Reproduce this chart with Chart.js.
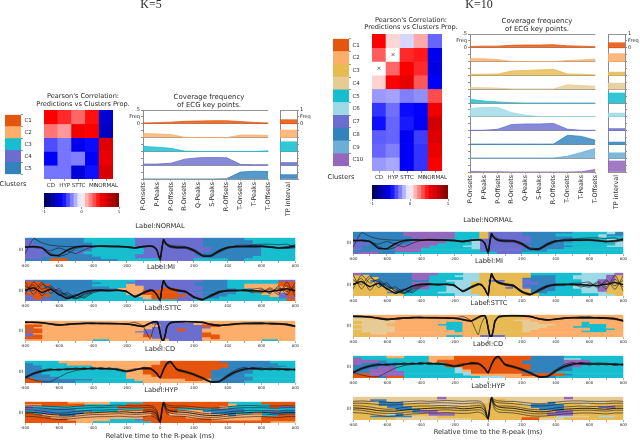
<!DOCTYPE html>
<html>
<head>
<meta charset="utf-8">
<script src="https://cdn.jsdelivr.net/npm/chart.js@4"></script>
<style>
body{margin:0;background:#fff;width:640px;height:441px;overflow:hidden;position:relative;font-family:"DejaVu Sans";color:#2a2a2a;filter:blur(.35px)}
canvas{position:absolute}
.t{position:absolute;transform:translate(-50%,-50%);white-space:nowrap;text-align:center}
</style>
</head>
<body>
<script>
// clusters and key points
const k5Names = ['C1','C2','C3','C4','C5'];
const k10Names = ['C1','C2','C3','C4','C5','C6','C7','C8','C9','C10'];
const k5Colors = ['#e6550d','#fdae6b','#17becf','#6b6ecf','#3182bd'];
const k10Colors = ['#e6550d','#fdae6b','#e7ba52','#e7cb94','#17becf','#9edae5','#6b6ecf','#3182bd','#6baed6','#9467bd'];
const labelsCorr = ['CD','HYP','STTC','MI','NORMAL'];
const keyPoints = ['P-Onsets','P-Peaks','P-Offsets','R-Onsets','Q-Peaks','S-Peaks','R-Offsets','T-Onsets','T-Peaks','T-Offsets'];
const cbLevels = [-.95,-.85,-.75,-.65,-.55,-.45,-.35,-.25,-.15,-.05,.05,.15,.25,.35,.45,.55,.65,.75,.85,.95];

// pearson correlation
const corrK5 = [
 [.52,.42,.30,.47,-.62],
 [.27,.20,.55,.52,-.68],
 [-.35,-.27,-.55,-.48,.62],
 [-.52,-.27,-.25,-.52,.58],
 [-.27,-.27,-.60,-.47,.65]];
const corrK10 = [
 [.50,.08,-.08,.17,-.30],
 [.32,0,.42,.45,-.55],
 [0,.30,.52,.42,-.58],
 [.09,.50,.60,.33,-.52],
 [-.20,-.18,-.25,-.22,.35],
 [-.40,-.28,-.48,-.50,.55],
 [-.47,-.30,-.45,-.53,.68],
 [-.32,-.30,-.53,-.38,.63],
 [-.30,-.25,-.52,-.40,.58],
 [-.20,-.17,-.52,-.40,.52]];
const marksK10 = [['HYP',1],['CD',2]];

// coverage frequency
const covK5 = [
 [.03,.04,.06,.09,.10,.11,.11,.08,.05,.03],
 [.15,.13,.11,.01,0,0,0,.09,.09,.08],
 [.18,.15,.11,.01,0,0,0,0,0,.02],
 [.04,.04,.07,.22,.27,.28,.27,.03,.02,.02],
 [0,0,0,0,0,0,.01,.25,.28,.27]];
const covK10 = [
 [.05,.06,.06,.09,.10,.10,.11,.07,.06,.04],
 [.11,.10,.07,.01,0,0,0,.04,.06,.09],
 [.04,.04,.05,.16,.18,.20,.22,.05,.04,.02],
 [.06,.05,.04,.01,.01,.01,.01,.16,.13,.11],
 [.13,.07,.04,.01,0,0,0,0,0,0],
 [.30,.34,.34,.15,.06,.01,.01,.01,.01,.01],
 [.01,.01,.05,.22,.24,.24,.26,.05,.01,.01],
 [.01,.01,.01,.01,.01,.01,.01,.33,.29,.15],
 [.01,.01,.01,.01,.01,.01,.01,.07,.21,.35],
 [.02,.01,.01,0,0,0,0,0,.01,.09]];
const tpK5 = [.30,.55,.70,.20,.32];
const tpK10 = [.37,.58,.24,.44,.73,.27,.15,.17,.39,.80];

// ecg traces, sampled at ecgT
const ecgT = [-800,-750,-700,-650,-600,-550,-500,-450,-400,-350,-300,-250,-200,-150,-100,-60,-40,-20,-10,0,10,20,30,40,60,100,150,200,250,300,350,400,450,500,550,600,650,700,750,800];
const normalMean = [60,62,56,26,24,46,60,63,62,64,63,62,60,56,62,64,62,48,25,5,55,92,78,70,62,58,58,45,22,22,44,58,62,62,62,63,60,56,58,65];
const normalThin = [
 [30,96,78,68,64,62,62,64,63,66,65,64,62,58,64,66,64,50,28,8,58,90,82,76,68,64,62,50,28,24,40,56,66,68,66,66,62,58,62,70],
 [62,58,54,44,56,44,32,48,60,62,60,60,58,54,60,62,60,46,22,4,50,88,74,66,58,54,54,40,20,26,48,60,60,60,60,60,58,54,54,60],
 [58,60,58,34,20,30,54,62,64,62,62,64,62,58,60,64,60,46,24,6,52,94,80,72,64,60,60,48,24,18,38,54,60,64,70,72,72,70,72,58]];
const miMean = [50,62,40,55,32,12,25,42,50,50,49,50,45,20,38,50,48,30,15,4,60,96,80,68,58,50,44,18,6,25,42,48,49,50,48,46,45,50,58,48];
const miThin = [
 [92,30,78,60,48,22,10,34,50,52,50,48,44,24,42,52,46,32,12,8,54,90,84,72,60,54,46,22,8,20,38,50,52,48,44,38,56,30,90,20],
 [30,90,55,72,40,30,12,20,44,50,52,50,46,18,36,46,50,26,18,2,64,92,76,64,56,48,42,14,4,30,46,50,46,54,56,60,34,70,28,88],
 [70,48,88,36,58,18,30,14,38,48,48,52,42,22,40,54,44,34,14,6,58,98,78,70,62,52,48,20,10,22,40,46,50,46,52,42,62,40,72,36],
 [44,76,24,64,26,40,16,28,46,54,46,50,48,18,34,48,52,28,16,3,62,94,82,66,54,46,40,16,6,28,44,52,48,52,38,54,40,62,44,68]];
const sttcMean = [93,92,90,84,79,82,85,87,87,86,86,85,84,78,72,88,94,96,80,40,5,2,30,70,90,95,96,95,92,82,77,80,84,86,87,87,86,85,82,72];
const sttcThin = [
 [94,94,90,86,82,80,84,88,88,88,84,86,84,92,72,10,60,90,78,44,8,4,34,72,88,92,94,92,90,84,78,78,82,88,90,88,84,82,78,70],
 [90,92,92,82,76,84,87,85,85,88,88,84,86,76,70,84,92,94,82,38,6,3,28,66,92,96,98,96,94,80,74,82,86,84,84,84,88,87,84,74],
 [92,90,88,84,78,80,83,86,89,84,85,87,82,80,74,90,96,97,76,36,4,1,32,74,88,94,95,94,90,80,76,80,86,88,86,90,84,83,80,76]];
const cdMean = [24,42,53,60,60,62,63,64,65,65,63,60,53,60,66,64,56,42,30,24,42,62,78,90,98,60,50,38,22,5,6,32,52,63,65,62,62,62,60,60];
const cdThin = [
 [24,14,6,6,25,45,55,62,66,64,66,62,50,58,70,66,60,44,32,26,44,60,74,86,92,62,52,40,26,8,4,26,46,60,70,66,68,66,64,62],
 [28,46,58,64,56,66,60,68,60,70,60,64,56,64,60,62,52,40,28,20,38,58,74,88,96,56,46,34,18,3,10,38,60,70,60,68,58,66,56,64],
 [22,38,50,56,64,58,68,60,70,60,68,56,50,56,70,68,58,46,34,28,40,56,70,82,90,64,54,42,24,6,8,30,50,58,68,58,66,58,66,56]];
const hypMean = [52,50,46,40,38,38,42,46,48,50,52,52,52,48,50,54,52,40,20,4,60,98,80,66,56,52,50,44,38,35,36,42,46,48,50,50,48,46,50,50];
const hypThin = [
 [72,72,70,66,64,64,68,70,72,72,74,74,72,70,72,74,70,52,26,6,66,98,84,78,74,72,70,66,62,60,62,66,70,72,72,72,70,70,72,72],
 [32,30,26,20,16,18,22,26,28,30,30,32,30,28,30,34,30,20,10,2,44,92,62,44,34,32,30,24,18,16,18,22,26,28,30,30,28,26,30,30],
 [62,60,56,50,46,48,54,58,60,60,62,62,60,58,60,62,60,46,22,4,54,96,76,62,60,60,58,52,46,44,46,52,56,58,60,58,58,56,60,60],
 [44,42,36,30,28,28,32,36,40,40,42,44,42,40,42,44,42,30,14,3,52,94,70,54,46,42,40,34,28,26,28,32,36,40,42,42,40,38,42,42],
 [80,82,80,78,76,74,78,80,82,80,82,84,82,80,82,82,78,60,30,8,70,100,90,86,82,80,80,76,72,70,72,76,80,82,82,80,80,80,82,80]];

// cluster of each 50 ms bin, one string per row, top row first
const k5Normal = [
 '5555 5553 3333 3444 4444 4555 5533 3333','4555 5553 3333 3444 4444 4555 5553 3333',
 '4555 5555 3333 3444 4444 4555 5553 3333','4455 5555 3333 3444 4444 4555 5555 3333',
 '4455 5554 3333 3344 4444 4455 5555 3335','4445 5555 3333 3344 4444 4455 5555 3333',
 '4455 5543 3333 3344 4444 4555 5555 3333','4445 5555 3333 3444 4444 5555 5555 3333',
 '4455 5555 5333 3444 4444 4555 5553 3333','5551 1555 5553 3333 4444 3333 5533 3333'];
const k5Mi = [
 '4555 5555 3333 3444 4444 4555 3333 3344','1155 5555 5333 4444 4444 5555 3333 3311',
 '1115 5555 3333 2444 4444 5555 3322 2211','1155 5555 5533 2244 4444 4555 3322 2221',
 '1114 5555 5552 2244 1144 4555 5332 2211','4115 5555 5533 2211 1144 5555 5332 2221',
 '1155 5555 3333 2211 1144 4555 5333 2241','4115 5553 3333 3221 1114 4555 3333 3241',
 '4155 5533 3333 3321 1144 4553 3333 3344','4445 5333 3333 3333 3344 3333 3333 3331'];
const k5Sttc = [
 '2222 2222 2222 2224 4442 2222 2222 2222','2222 2222 2222 2224 4444 2222 2222 2222',
 '1122 2222 2222 2222 4444 4112 2222 2222','1222 2222 2222 2224 4444 4422 2222 2222',
 '4122 2222 2222 2244 4414 4222 2222 2222','1122 2222 2222 2444 4444 4222 2222 2222',
 '4222 2222 2222 2244 4444 4122 2222 2222','4122 2222 2222 2214 4444 4112 2222 2222',
 '1122 2222 2222 2224 4444 4212 2222 2222','2222 2222 3322 2222 2444 4222 2222 3322'];
const k5Cd = [
 '3333 2222 2222 2222 1111 1115 5555 5333','5333 3222 2222 2222 1111 1111 5555 5533',
 '5533 3333 2222 2221 1111 1111 5555 5553','5533 3333 3332 2211 1111 1115 5555 3333',
 '5533 3333 3333 2211 1111 1155 5553 3333','5533 3333 3333 2211 1111 1155 5553 3333',
 '5553 3333 3333 2221 1111 1155 5533 3333','5555 3333 3333 2222 1111 1155 5553 3333',
 '1555 5555 3333 3222 2221 1255 5553 3333','1155 5533 3333 3322 2222 2255 5533 3333'];
const k5Hyp = [
 '1111 1222 2233 3311 1111 1111 3333 1111','2211 1113 3333 1111 1111 1111 2333 3111',
 '4333 3333 3331 1111 1111 1112 3333 3144','4555 5533 3333 3311 1133 3355 5533 3333',
 '3455 5555 3332 2211 1122 2555 5533 4455','1345 5552 2222 2221 1222 2255 5332 3455',
 '1122 5522 2222 2221 1222 2222 5222 3311','1112 2222 2222 2211 1112 2222 2222 1111',
 '1111 1222 2233 3411 1111 1122 2222 1111','1111 1122 3333 3331 1111 1111 1111 1222'];
const k10Normal = [
 '8888 8800 0000 5553 7777 8888 8855 5568','8888 8800 0000 5553 7777 8888 5555 5688',
 '8888 8880 0000 5553 7777 7888 8855 5655','7888 8888 0055 5567 7777 7888 8885 5566',
 '7888 8880 0005 5567 7777 7888 8855 5566','7788 8880 0055 5567 7777 8888 8555 5556',
 '7888 8000 0555 5667 7777 7888 8855 5566','7888 8000 5555 5567 7777 8888 8555 5555',
 '8888 8000 5555 5557 7777 8885 5555 5555','7008 8555 5555 5555 5777 5555 5555 5555'];
const k10Mi = [
 '0888 8880 0055 5663 3333 3555 5556 6660','3388 8880 0555 6663 3333 3888 5566 6603',
 '3338 8880 0555 5663 3333 8888 5566 6603','3388 8888 8556 6663 7733 7888 5556 6003',
 '3338 8880 0555 6633 3333 7788 5556 6033','3338 8880 0556 6633 3333 8888 8566 6633',
 '3333 8880 0556 6633 3373 7888 5566 6033','3333 3885 5556 6633 3333 3888 5556 6033',
 '3333 8855 5566 6633 3333 3885 5556 6633','3333 3355 5555 6663 3333 3355 5555 5663'];
const k10Sttc = [
 '2222 2222 2222 2222 3333 2222 2222 2222','4422 2222 2222 2233 3333 2222 2225 5522',
 '4444 4222 2222 2333 3334 4222 2222 2222','3444 4222 2225 5233 3333 4422 2225 2222',
 '4444 2222 2255 5233 3333 4444 2225 5522','3444 4222 2225 5333 3333 4442 2255 5522',
 '4444 4222 2225 5233 3333 4422 2222 5552','3444 4222 2222 5333 3333 4222 2225 5522',
 '3344 2222 2222 2233 3333 3222 2222 2222','3322 2222 2225 5227 7733 2222 2222 2222'];
const k10Cd = [
 '5555 2255 5222 1111 1111 1888 8555 5555','0555 5555 5222 1111 1111 1888 8665 5555',
 '0008 5555 5211 1111 1111 8888 8000 5555','0888 8855 5551 1111 1111 8888 8000 5555',
 '8888 8555 5551 1111 1111 1888 8805 5555','8880 0555 5555 6111 1111 1888 8855 5555',
 '8800 0555 5555 6211 1111 8888 8855 5555','8800 0055 5555 6611 1111 8888 5555 5555',
 '1100 0055 5555 5622 2222 1111 1855 5555','1118 1155 5555 5556 6622 2288 5555 5555'];
const k10Hyp = [
 '4444 4444 4404 4444 4444 4444 4044 4444','4488 4444 4444 4444 3344 4444 4444 4444',
 '3348 8844 4444 4444 3334 4448 4444 4433','3338 8833 3444 4433 3333 4888 8334 3333',
 '3333 8883 3334 3333 3333 3888 8333 3703','3333 3888 3333 3333 3333 3388 8333 3333',
 '3333 3338 0033 3333 3333 3333 0033 3333','3333 6833 3000 3333 3333 3330 0033 3333',
 '3388 8884 4433 3333 3333 3333 6644 3663','3333 3444 4444 4433 3333 1144 4333 3333'];

const GREY = '#8a8a8a';
Chart.defaults.font.family = '"DejaVu Sans"';
Chart.defaults.color = '#2a2a2a';
Chart.defaults.animation = false;
Chart.defaults.plugins.legend.display = false;
Chart.defaults.plugins.tooltip.enabled = false;

function seismic(v){
  let t;
  if(v < -.5){ t=(v+1)/.5; return `rgb(0,0,${76+179*t})`; }
  if(v < 0){ t=(v+.5)/.5; return `rgb(${255*t},${255*t},255)`; }
  if(v < .5){ t=v/.5; return `rgb(255,${255*(1-t)},${255*(1-t)})`; }
  t=(v-.5)/.5; return `rgb(${255-127*t},0,0)`;
}

function addText(str,x,y,size,family){
  const d=document.createElement('div');
  d.className='t';
  d.innerHTML=str;
  d.style.left=x+'px'; d.style.top=y+'px'; d.style.fontSize=size+'px'; d.style.lineHeight='1.15';
  if(family) d.style.fontFamily=family;
  document.body.appendChild(d);
}

// r is the plot area on the page, m the room left around it for axes
function addChart(r,m,cfg){
  const c=document.createElement('canvas');
  c.width=r.w+m.l+m.r; c.height=r.h+m.t+m.b;
  c.style.left=(r.x-m.l)+'px'; c.style.top=(r.y-m.t)+'px';
  document.body.appendChild(c);
  const pad={left:m.l,right:m.r,top:m.t,bottom:m.b};
  for(const s of Object.values(cfg.options.scales)){
    if(s.display===false) continue;
    if(s.position==='left'){ pad.left=0; s.afterFit=a=>{a.width=m.l}; }
    if(s.position==='right'){ pad.right=0; s.afterFit=a=>{a.width=m.r}; }
    if(s.position==='bottom'){ pad.bottom=0; s.afterFit=a=>{a.height=m.b}; }
  }
  cfg.options.layout={autoPadding:false,padding:pad};
  cfg.options.responsive=false;
  return new Chart(c,cfg);
}

function clusterColumn(r,names,colors){
  addChart(r,{l:0,r:16,t:0,b:0},{type:'bar',data:{labels:names,datasets:[{
      data:names.map(()=>1),backgroundColor:colors,barPercentage:1,categoryPercentage:1}]},
    options:{indexAxis:'y',scales:{
      x:{display:false,min:0,max:1},
      y:{position:'right',grid:{display:true,drawOnChartArea:false,tickLength:2,color:'#555',lineWidth:.6},border:{display:false},
         ticks:{font:{size:5.5},padding:1.5,autoSkip:false}}}}});
}

function heatmap(r,corr,marks){
  const k=corr.length;
  const sets=corr.map((row,i)=>({data:row.map(()=>[k-1-i,k-i]),backgroundColor:row.map(seismic),
    grouped:false,barPercentage:1,categoryPercentage:1,order:2}));
  if(marks) sets.push({type:'scatter',data:marks.map(p=>({x:p[0],y:k-p[1]-.5})),pointStyle:'crossRot',
    pointRadius:2,borderColor:'#222',borderWidth:.6,order:1});
  addChart(r,{l:0,r:0,t:0,b:11},{type:'bar',data:{labels:labelsCorr,datasets:sets},
    options:{scales:{
      x:{position:'bottom',grid:{display:true,drawOnChartArea:false,tickLength:2,color:'#555',lineWidth:.6,offset:false},border:{display:false},
         ticks:{font:{size:5.5},padding:1,maxRotation:0,autoSkip:false}},
      y:{display:false,min:0,max:k}}}});
}

function colorbar(r){
  addChart(r,{l:4,r:4,t:0,b:9},{type:'bar',data:{datasets:[{
      data:cbLevels.map(v=>({x:v,y:1})),backgroundColor:cbLevels.map(seismic),barPercentage:1,categoryPercentage:1}]},
    options:{scales:{
      x:{type:'linear',position:'bottom',offset:false,min:-1,max:1,grid:{display:true,offset:false,drawOnChartArea:false,tickLength:2,color:'#555',lineWidth:.6},
         border:{display:false},ticks:{stepSize:1,font:{size:4},padding:1,maxRotation:0}},
      y:{display:false,min:0,max:1}}}});
}

function coverage(r,cov,colors){
  const k=cov.length;
  const sets=cov.map((row,i)=>({
    data:row.map(v=>k-1-i+v/.5),fill:{value:k-1-i},backgroundColor:colors[i]+'d0',borderColor:colors[i],
    borderWidth:.8,pointRadius:0,tension:0}));
  addChart(r,{l:18,r:0,t:4,b:37},{type:'line',data:{labels:keyPoints,datasets:sets},
    options:{scales:{
      x:{position:'bottom',grid:{display:true,drawOnChartArea:false,tickLength:2,color:GREY,lineWidth:.6},border:{display:false},
         ticks:{font:{size:6.4},padding:1,minRotation:90,maxRotation:90,autoSkip:false}},
      y:{position:'left',min:0,max:k,
         grid:{color:c=>Number.isInteger(c.tick.value)?GREY:'rgba(0,0,0,0)',tickColor:GREY,tickLength:2,lineWidth:.9},
         border:{color:GREY,width:1},
         ticks:{stepSize:.5,autoSkip:false,padding:1,font:{size:5},
           callback:v=>v===k?'.5':v===k-.5?'Freq':v===k-1?'0':''}}}}});
}

function tpColumn(r,tp,colors){
  const k=tp.length;
  addChart(r,{l:0,r:16,t:4,b:37},{type:'bar',data:{labels:['TP interval'],
    datasets:tp.map((v,i)=>({data:[[k-1-i,k-1-i+v]],backgroundColor:colors[i]+'e0',borderColor:colors[i],
      grouped:false,barPercentage:1,categoryPercentage:1}))},
    options:{scales:{
      x:{position:'bottom',grid:{display:true,tickLength:0,color:GREY,lineWidth:1},border:{display:false},
         ticks:{font:{size:6.4},padding:3,minRotation:90,maxRotation:90}},
      y:{position:'right',min:0,max:k,
         grid:{color:c=>Number.isInteger(c.tick.value)?GREY:'rgba(0,0,0,0)',tickColor:GREY,tickLength:2,lineWidth:.9},
         border:{color:GREY,width:1},
         ticks:{stepSize:.5,autoSkip:false,padding:1,font:{size:5},
           callback:v=>v===k?'1':v===k-.5?'Freq':v===k-1?'0':''}}}}});
}

// one ecg strip: the cluster rows as floating bars with the traces on top
function ecgPanel(r,rows,colors,mean,thin,meanWidth){
  const segs=colors.map(()=>[]);
  rows.forEach((s,ri)=>{
    const cells=s.replace(/ /g,'');
    let start=0;
    for(let i=1;i<=cells.length;i++){
      if(cells[i]!==cells[start]){
        segs[+cells[start]].push({x:[-800+start*50,-800+i*50],y:rows.length-ri-.5});
        start=i;
      }
    }
  });
  const sets=[];
  segs.forEach((d,i)=>{ if(d.length) sets.push({type:'bar',indexAxis:'y',data:d,backgroundColor:colors[i],
    xAxisID:'x',yAxisID:'yr',grouped:false,barPercentage:1,categoryPercentage:1,order:3}); });
  thin.forEach(tr=>sets.push({type:'line',data:tr.map((v,i)=>({x:ecgT[i],y:v})),xAxisID:'x',yAxisID:'yv',
    borderColor:'rgba(25,25,35,.85)',borderWidth:.7,pointRadius:0,tension:.15,order:2}));
  sets.push({type:'line',data:mean.map((v,i)=>({x:ecgT[i],y:v})),xAxisID:'x',yAxisID:'yv',
    borderColor:'#111',borderWidth:meanWidth,pointRadius:0,tension:.15,order:1});
  addChart(r,{l:12,r:4,t:0,b:9},{type:'bar',data:{datasets:sets},
    options:{scales:{
      x:{type:'linear',position:'bottom',offset:false,min:-800,max:800,
         grid:{display:true,offset:false,drawOnChartArea:false,tickLength:2,color:'#777',lineWidth:.6},border:{display:false},
         ticks:{stepSize:100,autoSkip:false,maxRotation:0,font:{size:3.8},padding:1,callback:v=>v%200===0?v:''}},
      yr:{type:'linear',axis:'y',display:false,offset:false,min:0,max:rows.length},
      yv:{type:'linear',axis:'y',position:'left',min:0,max:100,offset:false,
         grid:{display:true,drawOnChartArea:false,drawTicks:false,color:'rgba(0,0,0,0)',offset:false},border:{display:false},
         ticks:{stepSize:50,font:{size:4.5},padding:2,callback:v=>v===50?'III':''}}}}});
}

// k=5 block
addText('K=5',151,4.5,12,'"Liberation Serif"');
addText('Pearson\'s Correlation:<br>Predictions vs Clusters Prop.',83,101,6.6);
addText('Coverage frequency<br>of ECG key points.',209,101,7);
addText('Clusters',13,185,6.6);
clusterColumn({x:5,y:110,w:16,h:69},k5Names,k5Colors);
heatmap({x:44,y:110,w:75,h:69},corrK5);
colorbar({x:44,y:193,w:75,h:14});
coverage({x:143,y:110,w:134,h:69},covK5,k5Colors);
tpColumn({x:280,y:110,w:17,h:69},tpK5,k5Colors);

const k5Tops = [233,275,316,356,397];
const k5Heights = [28,26,25,27,26];
const k5Titles = [['Label:NORMAL',160,227],['Label:MI',161,268],['Label:STTC',163,309],['Label:CD',160,350],['Label:HYP',161,391]];
const k5Strips = [k5Normal,k5Mi,k5Sttc,k5Cd,k5Hyp];
const means = [normalMean,miMean,sttcMean,cdMean,hypMean];
const thins = [normalThin,miThin,sttcThin,cdThin,hypThin];
const meanWidths = [1.5,1.5,1.6,1.3,.9];
k5Strips.forEach((rows,i)=>{
  ecgPanel({x:25,y:k5Tops[i],w:271,h:k5Heights[i]},rows,['',...k5Colors],means[i],thins[i],meanWidths[i]);
  addText(k5Titles[i][0],k5Titles[i][1],k5Titles[i][2],6.7);
});
addText('Relative time to the R-peak (ms)',160,437,6.7);

// k=10 block
addText('K=10',479,4.5,12,'"Liberation Serif"');
addText('Pearson\'s Correlation:<br>Predictions vs Clusters Prop.',411,24.5,6.6);
addText('Coverage frequency<br>of ECG key points.',537,24.5,7);
addText('Clusters',341,178,6.6);
clusterColumn({x:333,y:34,w:16,h:137},k10Names,k10Colors);
heatmap({x:372,y:34,w:76,h:137},corrK10,marksK10);
colorbar({x:372,y:185,w:76,h:14});
coverage({x:470,y:34,w:134,h:138},covK10,k10Colors);
tpColumn({x:608,y:34,w:17,h:138},tpK10,k10Colors);

const k10Tops = [227,268,310,351,392];
const k10Heights = [27,28,27,27,28];
const k10Titles = [['Label:NORMAL',488,221],['Label:MI',489,262],['Label:STTC',489,304],['Label:CD',488,345],['Label:HYP',488,387]];
const k10Strips = [k10Normal,k10Mi,k10Sttc,k10Cd,k10Hyp];
// strip digits: 1..9 are C1..C9, 0 is C10
const k10Digits = [k10Colors[9],...k10Colors.slice(0,9)];
k10Strips.forEach((rows,i)=>{
  ecgPanel({x:353,y:k10Tops[i],w:271,h:k10Heights[i]},rows,k10Digits,means[i],thins[i],meanWidths[i]);
  addText(k10Titles[i][0],k10Titles[i][1],k10Titles[i][2],6.7);
});
addText('Relative time to the R-peak (ms)',488,433,6.7);
</script>
</body>
</html>
